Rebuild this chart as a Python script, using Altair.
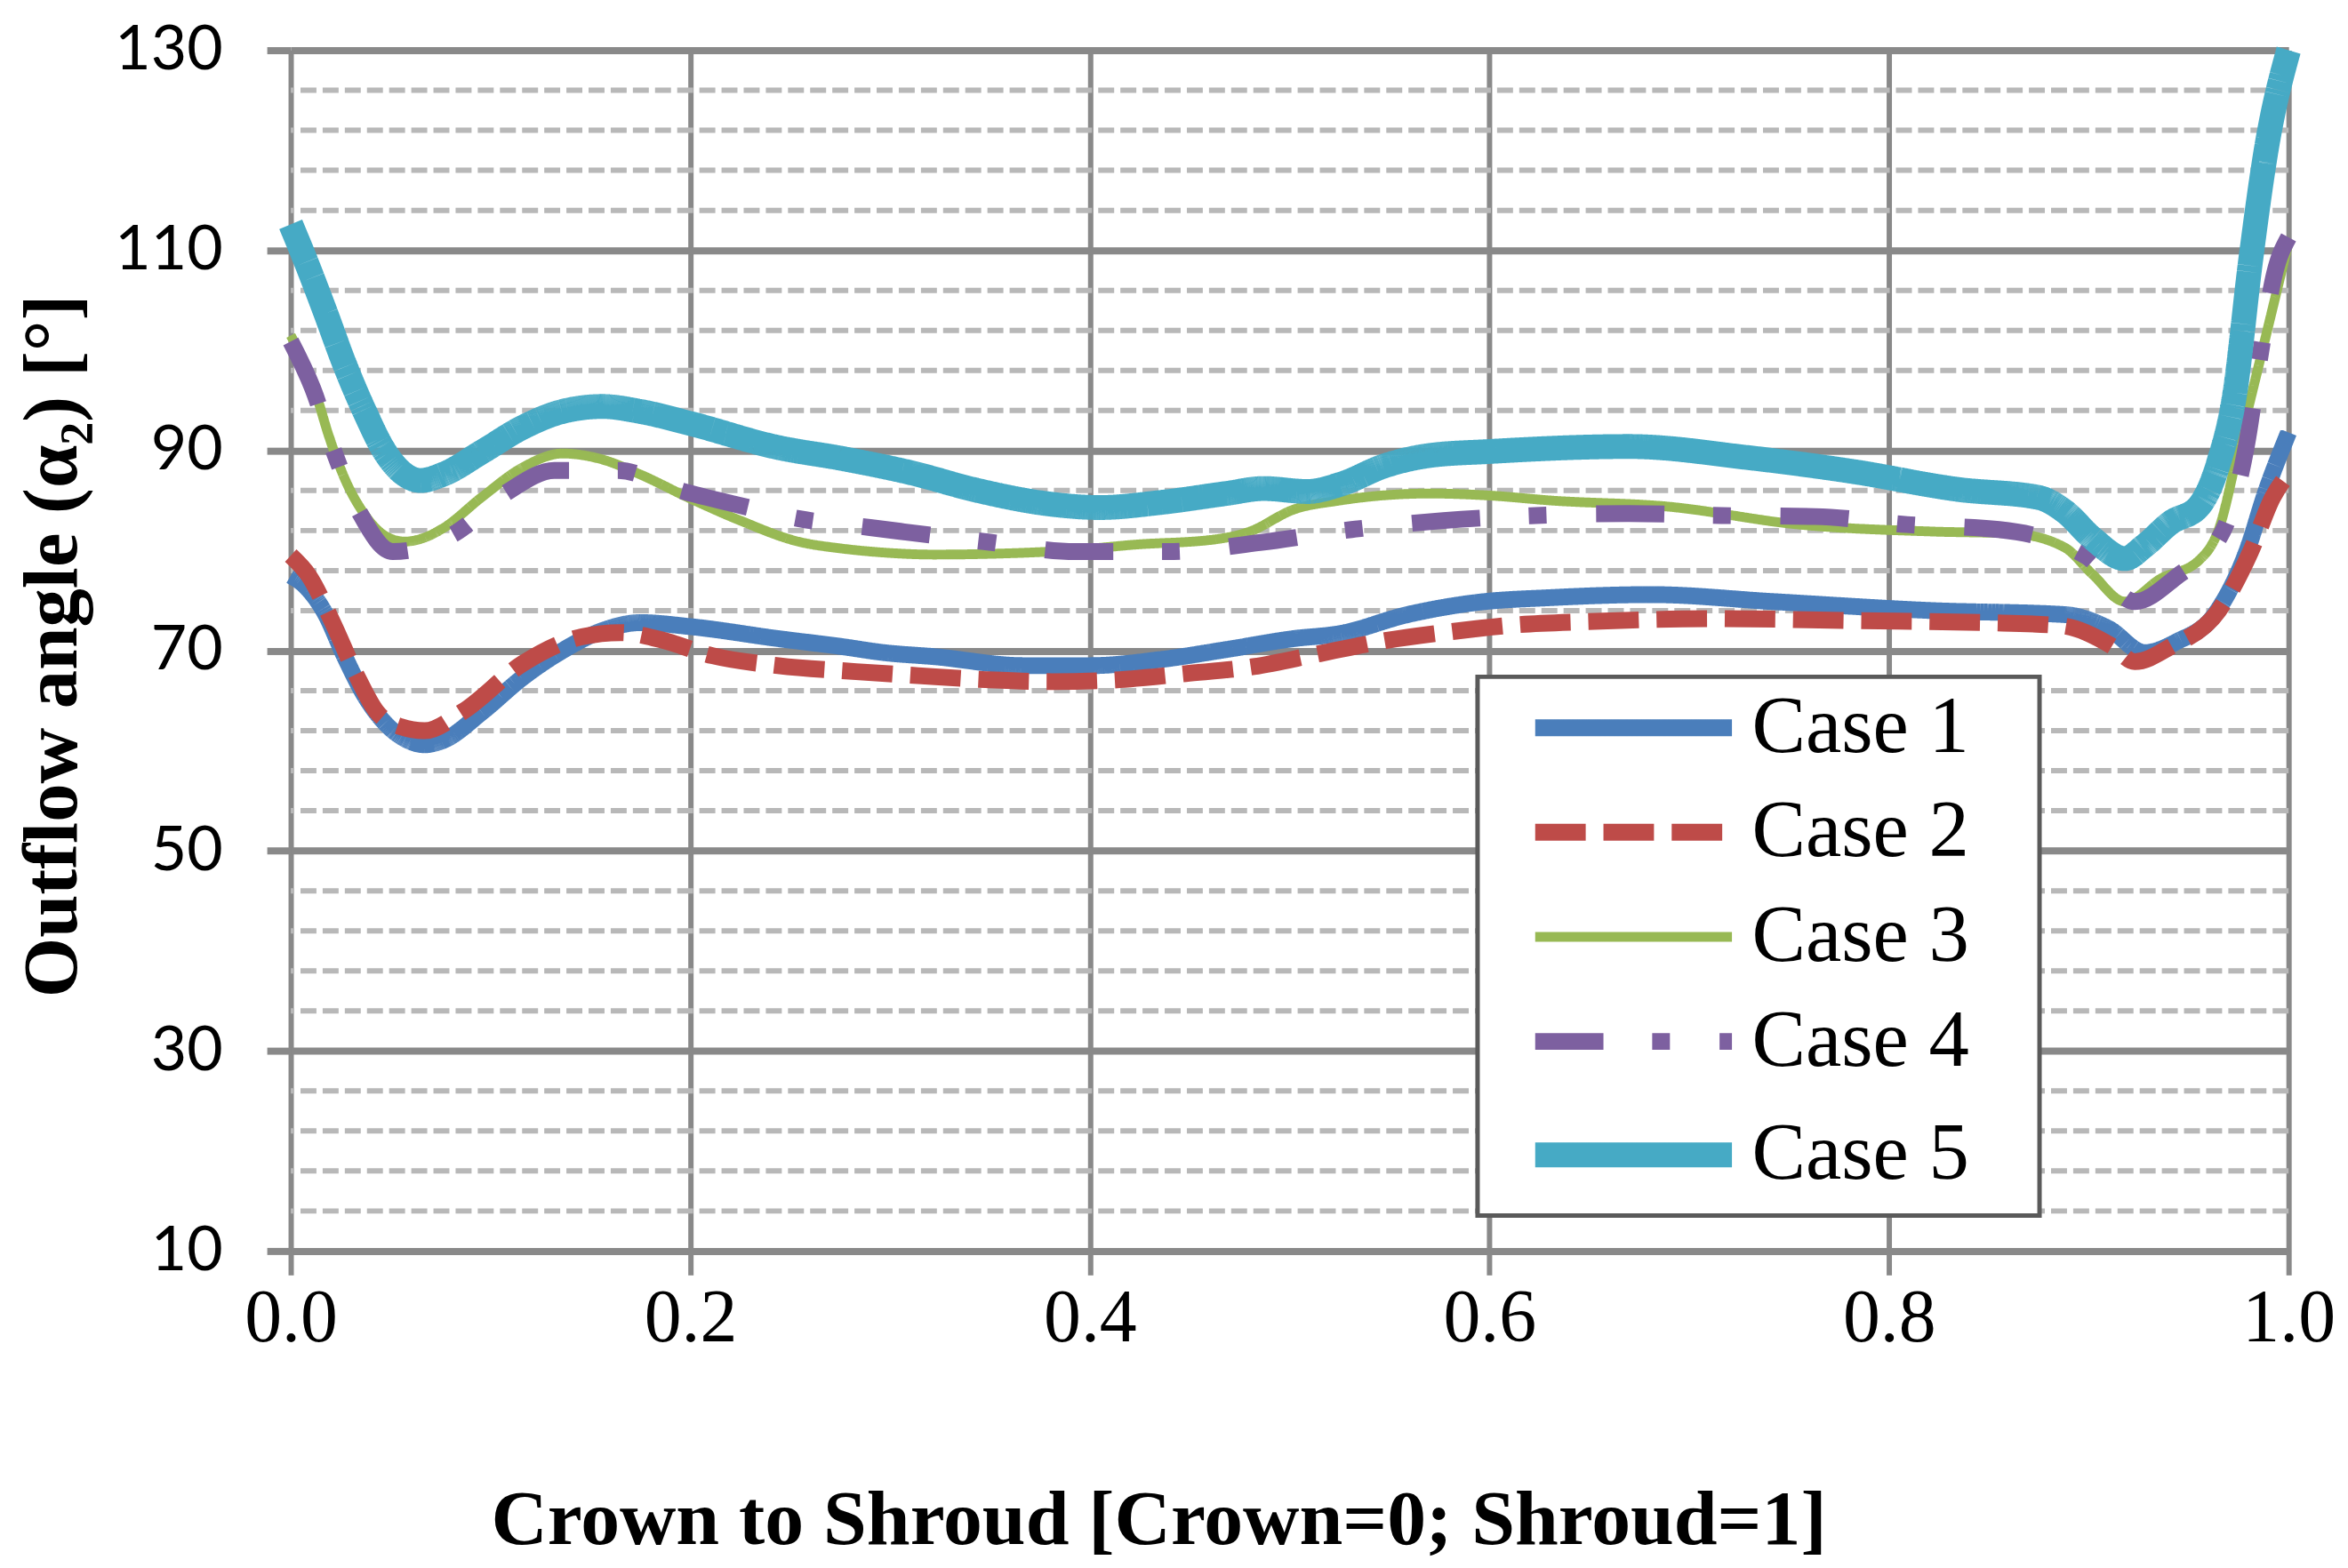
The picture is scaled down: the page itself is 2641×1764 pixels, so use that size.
import altair as alt
import pandas as pd

# Outflow angle along the crown-to-shroud line for five cases
x_case1 = [0.0, 0.007, 0.017, 0.027, 0.037, 0.047, 0.057, 0.067, 0.076, 0.096, 0.116, 0.136,
           0.156, 0.175, 0.2, 0.244, 0.276, 0.297, 0.322, 0.367, 0.4, 0.435, 0.468, 0.502,
           0.525, 0.559, 0.593, 0.631, 0.681, 0.742, 0.822, 0.888, 0.91, 0.928, 0.944, 0.963,
           0.979, 0.989, 1.0]
y_case1 = [77.5, 76.5, 73.8, 69.4, 65.5, 62.8, 61.2, 60.6, 61.0, 63.9, 67.3, 70.0,
           72.0, 72.8, 72.4, 71.2, 70.4, 69.8, 69.4, 68.5, 68.5, 69.1, 70.1, 71.2,
           71.7, 73.6, 74.8, 75.3, 75.6, 74.9, 74.0, 73.6, 72.2, 69.8, 70.9, 73.6,
           79.9, 86.1, 91.8]

x_case2 = [0.0, 0.009, 0.021, 0.033, 0.043, 0.055, 0.067, 0.086, 0.116, 0.146, 0.165, 0.185,
           0.211, 0.244, 0.283, 0.314, 0.348, 0.381, 0.415, 0.448, 0.482, 0.515, 0.548,
           0.581, 0.615, 0.649, 0.715, 0.782, 0.848, 0.886, 0.912, 0.923, 0.941, 0.965,
           0.981, 0.992, 1.0]
y_case2 = [79.5, 77.5, 72.8, 67.5, 63.9, 62.4, 62.0, 63.9, 68.7, 71.4, 71.8, 71.1,
           69.5, 68.5, 67.9, 67.5, 67.1, 66.9, 67.1, 67.7, 68.4, 69.7, 71.0,
           71.9, 72.6, 72.9, 73.2, 73.0, 72.8, 72.5, 70.4, 68.9, 70.4, 74.0,
           79.9, 85.3, 87.7]

x_case3 = [0.0, 0.007, 0.013, 0.019, 0.027, 0.037, 0.047, 0.057, 0.067, 0.076, 0.096, 0.116,
           0.136, 0.156, 0.175, 0.2, 0.225, 0.254, 0.276, 0.297, 0.322, 0.355, 0.389, 0.423,
           0.462, 0.48, 0.502, 0.525, 0.57, 0.6, 0.631, 0.689, 0.755, 0.822, 0.862, 0.888,
           0.902, 0.918, 0.936, 0.955, 0.965, 0.976, 0.987, 1.0]
y_case3 = [101.5, 98.6, 95.4, 91.5, 87.2, 83.6, 81.5, 80.9, 81.3, 82.2, 85.4, 88.3,
           89.7, 89.1, 87.6, 85.2, 83.0, 80.9, 80.2, 79.8, 79.6, 79.7, 80.0, 80.6,
           81.1, 81.9, 84.1, 85.0, 85.7, 85.5, 85.0, 84.4, 82.6, 81.9, 81.7, 80.3,
           77.6, 74.9, 77.2, 79.0, 82.1, 91.1, 100.1, 110.8]

x_case4 = [0.0, 0.011, 0.022, 0.035, 0.051, 0.082, 0.108, 0.132, 0.164, 0.195, 0.223, 0.254,
           0.29, 0.347, 0.393, 0.439, 0.485, 0.531, 0.577, 0.623, 0.67, 0.716, 0.763, 0.809,
           0.855, 0.899, 0.923, 0.944, 0.967, 0.979, 0.986, 0.993, 1.0]
y_case4 = [100.9, 96.2, 89.7, 83.6, 79.9, 81.7, 85.8, 88.0, 88.0, 86.0, 84.6, 83.2,
           82.3, 80.9, 79.9, 79.9, 80.8, 82.1, 83.0, 83.5, 83.7, 83.5, 83.4, 82.6,
           82.1, 79.4, 74.9, 77.4, 81.9, 90.6, 99.8, 107.7, 111.3]

x_case5 = [0.0, 0.007, 0.017, 0.027, 0.037, 0.047, 0.057, 0.065, 0.076, 0.096, 0.116, 0.136,
           0.156, 0.175, 0.2, 0.244, 0.276, 0.31, 0.344, 0.378, 0.405, 0.435, 0.468, 0.487,
           0.509, 0.525, 0.548, 0.57, 0.6, 0.67, 0.729, 0.782, 0.835, 0.875, 0.888, 0.902,
           0.918, 0.928, 0.941, 0.955, 0.965, 0.973, 0.981, 0.989, 1.0]
y_case5 = [112.6, 109.2, 104.0, 98.6, 93.9, 89.9, 87.6, 87.0, 87.6, 89.9, 92.3, 93.9,
           94.4, 93.9, 92.7, 90.3, 89.2, 87.8, 86.0, 84.7, 84.3, 84.8, 85.7, 86.2,
           85.9, 86.6, 88.5, 89.5, 89.9, 90.4, 89.3, 87.9, 86.1, 85.3, 83.9, 81.2,
           79.2, 80.5, 82.8, 84.4, 88.8, 95.6, 109.0, 120.3, 130.0]

cases = ["Case 1", "Case 2", "Case 3", "Case 4", "Case 5"]
colors = ["#4A7EBB", "#BE4B48", "#98B954", "#7D60A0", "#46AAC5"]
widths = [19, 19, 11, 19, 28]
dashes = [[1, 0], [57, 20], [1, 0], [77, 55, 20, 56], [1, 0]]

major_ticks = [10, 30, 50, 70, 90, 110, 130]
minor_ticks = [v for v in range(14, 130, 4) if (v - 10) % 20 != 0]
x_ticks = [0.0, 0.2, 0.4, 0.6, 0.8, 1.0]

series = [(x_case1, y_case1), (x_case2, y_case2), (x_case3, y_case3),
          (x_case4, y_case4), (x_case5, y_case5)]
frames = []
for name, (xs, ys) in zip(cases, series):
    frames.append(pd.DataFrame({"pos": xs, "angle": ys, "case": name}))
df = pd.concat(frames, ignore_index=True)
minor_df = pd.DataFrame({"angle": minor_ticks})

y_scale = alt.Scale(domain=[10, 130], nice=False, zero=False)
x_scale = alt.Scale(domain=[0, 1], nice=False)

y_axis = alt.Axis(
    values=major_ticks, grid=True, gridColor="#898989", gridWidth=8,
    tickSize=27, tickColor="#898989", tickWidth=8, domain=False,
    labelFont="Lato", labelFontSize=70, labelColor="black", labelPadding=50,
    title="Outflow angle (α₂) [°]", titleFont="Liberation Serif",
    titleFontSize=87, titleFontWeight="bold", titleColor="black",
    titleX=-268, titleY=672, titleAlign="center", titleBaseline="middle",
    titleAngle=270)

x_axis = alt.Axis(
    values=x_ticks, format=".1f", grid=True, gridColor="#898989", gridWidth=6,
    tickSize=27, tickColor="#898989", tickWidth=6, domain=False,
    labelFont="Liberation Serif", labelFontSize=84, labelColor="black",
    labelPadding=8, labelFlush=False,
    title="Crown to Shroud [Crown=0; Shroud=1]", titleFont="Liberation Serif",
    titleFontSize=88, titleFontWeight="bold", titleColor="black",
    titleX=979, titleY=330, titleAlign="center", titleBaseline="alphabetic")

legend = alt.Legend(
    title=None, orient="none", legendX=1339, legendY=707,
    symbolType="M-5,0H5", symbolSize=1971, symbolOffset=118.5,
    labelOffset=88, labelFont="Liberation Serif", labelFontSize=91,
    labelColor="black", labelLimit=800, padding=12, rowPadding=26,
    fillColor="white", strokeColor="#5a5a5a",
    labelExpr="datum.label + '\u2800'",
)

minor = alt.Chart(minor_df).mark_rule(
    color="#b8b8b8", strokeWidth=6, strokeDash=[18, 7]
).encode(y=alt.Y("angle:Q", scale=y_scale, axis=y_axis))

lines = alt.Chart(df).mark_line(interpolate="monotone").encode(
    x=alt.X("pos:Q", scale=x_scale, axis=x_axis),
    y=alt.Y("angle:Q", scale=y_scale, axis=y_axis),
    color=alt.Color("case:N", scale=alt.Scale(domain=cases, range=colors), legend=legend),
    strokeDash=alt.StrokeDash("case:N", scale=alt.Scale(domain=cases, range=dashes), legend=legend),
    strokeWidth=alt.StrokeWidth("case:N", scale=alt.Scale(type="ordinal", domain=cases, range=widths), legend=legend),
    detail="case:N",
)

chart = alt.layer(minor, lines).properties(
    width=2254, height=1355,
    autosize=alt.AutoSizeParams(type="none"),
    padding={"left": 320, "top": 46, "right": 59, "bottom": 352},
    background="white",
).configure_view(strokeWidth=0).configure_legend(strokeWidth=5)

chart.save("out.html", embed_options={"renderer": "svg", "actions": False})
